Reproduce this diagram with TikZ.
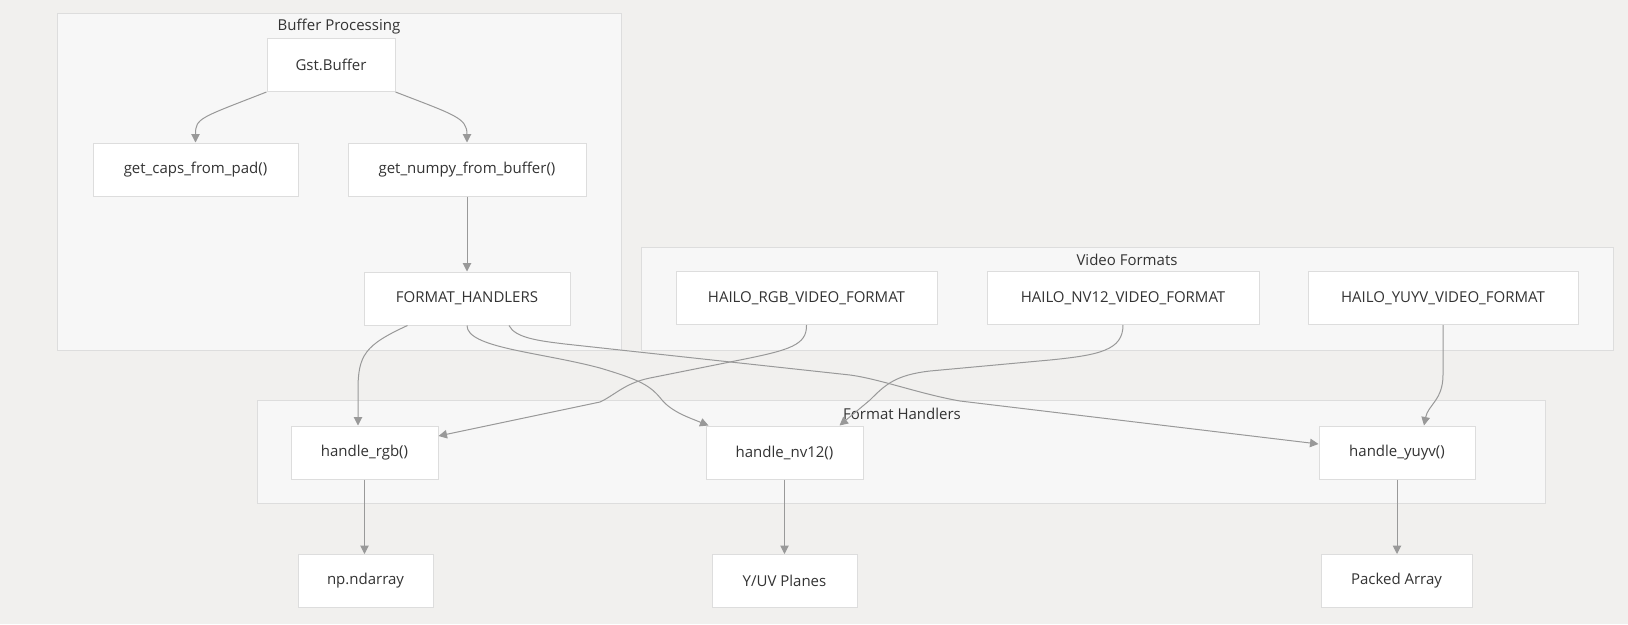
\documentclass[tikz,border=0pt]{standalone}
\usepackage{fontspec}
\setmainfont{Open Sans}
\usetikzlibrary{arrows.meta,calc}
\definecolor{bg}{HTML}{F1F0EE}
\definecolor{clfill}{HTML}{F7F7F7}
\definecolor{clline}{HTML}{DDDDDD}
\definecolor{edge}{HTML}{999999}
\definecolor{txt}{HTML}{333333}
\begin{document}
\begin{tikzpicture}[x=1pt,y=-1pt,
  box/.style={draw=clline,fill=white,line width=1pt,minimum height=53pt,inner sep=0pt,text=txt,font=\fontsize{15}{17}\selectfont},
  cluster/.style={draw=clline,fill=clfill,line width=1pt},
  cltitle/.style={text=txt,font=\fontsize{15}{17}\selectfont,inner sep=0pt},
  conn/.style={draw=edge,line width=1pt,-{Triangle[length=8.5pt,width=8.5pt]}}]
\fill[bg] (0,0) rectangle (1628,624);
\useasboundingbox (0,0) rectangle (1628,624);
% clusters
\draw[cluster] (57,13) rectangle (621,350);
\node[cltitle] (t1) at (339,27) {Buffer Processing};
\draw[cluster] (641,247) rectangle (1613,350);
\node[cltitle] (t2) at (1127,260) {Video Formats};
\draw[cluster] (257,400) rectangle (1545,503);
\node[cltitle] (t3) at (902,414) {Format Handlers};
% nodes
\node[box,minimum width=128pt] (gst) at (331,65) {Gst.Buffer};
\node[box,minimum width=205pt] (caps) at (195.5,169.5) {get\_caps\_from\_pad()};
\node[box,minimum width=238pt] (numpy) at (467,169.5) {get\_numpy\_from\_buffer()};
\node[box,minimum width=206pt] (fh) at (467,298.5) {FORMAT\_HANDLERS};
\node[box,minimum width=261pt] (rgbf) at (806.5,298) {HAILO\_RGB\_VIDEO\_FORMAT};
\node[box,minimum width=272pt] (nv12f) at (1123,298) {HAILO\_NV12\_VIDEO\_FORMAT};
\node[box,minimum width=270pt] (yuyvf) at (1443,298) {HAILO\_YUYV\_VIDEO\_FORMAT};
\node[box,minimum width=147pt] (hrgb) at (364.5,452.5) {handle\_rgb()};
\node[box,minimum width=157pt] (hnv12) at (784.5,452.5) {handle\_nv12()};
\node[box,minimum width=156pt] (hyuyv) at (1397,452.5) {handle\_yuyv()};
\node[box,minimum width=135pt] (np) at (365.5,581) {np.ndarray};
\node[box,minimum width=145pt] (yuv) at (784.5,581) {Y/UV Planes};
\node[box,minimum width=151pt] (packed) at (1396.5,581) {Packed Array};
% edges
\draw[conn] (gst.south west) .. controls (200,118) and (195.5,118) .. (caps.north);
\draw[conn] (gst.south east) .. controls (455,115) and (467,118) .. (numpy.north);
\draw[conn] (numpy.south) -- (fh.north);
\draw[conn] ([xshift=-59.5pt]fh.south) .. controls (365,345) and (358,355) .. (358,390) -- ([xshift=-6.5pt]hrgb.north);
\draw[conn] (fh.south) .. controls (467,348) and (540,352) .. (600,368) .. controls (640,380) and (650,385) .. (662,400) .. controls (672,412) and (690,418) .. ([xshift=-76pt]hnv12.north);
\draw[conn] ([xshift=42pt]fh.south) .. controls (515,338) and (540,341) .. (565,344) -- (850,375) .. controls (880,379) and (920,394) .. (960,401) -- ([yshift=8.5pt]hyuyv.west);
\draw[conn] (rgbf.south) .. controls (807,345) and (790,350) .. (740,360) -- (650,378) .. controls (625,383) and (615,395) .. (600,402) -- ([yshift=16.5pt]hrgb.east);
\draw[conn] (nv12f.south) .. controls (1123,350) and (1100,355) .. (1050,360) -- (930,371) .. controls (895,375) and (885,385) .. (870,400) -- ([xshift=55pt]hnv12.north);
\draw[conn] (yuyvf.south) -- (1443,375) .. controls (1443,400) and (1428,405) .. ([xshift=27pt]hyuyv.north);
\draw[conn] (hrgb.south) -- (hrgb.south |- np.north);
\draw[conn] (hnv12.south) -- (yuv.north);
\draw[conn] (hyuyv.south) -- (hyuyv.south |- packed.north);
\end{tikzpicture}
\end{document}
